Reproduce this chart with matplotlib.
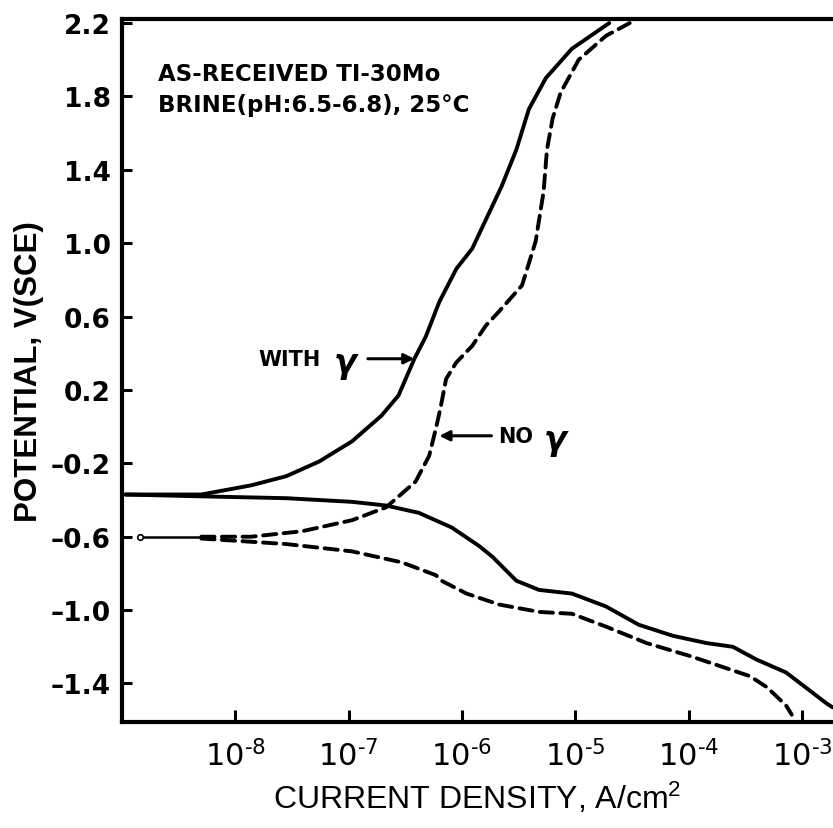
import numpy as np
import matplotlib
matplotlib.use("Agg")
import matplotlib.pyplot as plt
from matplotlib import font_manager

# ---------------- data (log10 current density, potential V vs SCE) ----------------
log_i_with_anodic = [-8.97, -8.30, -7.86, -7.55, -7.26, -6.97, -6.71, -6.56, -6.42, -6.32,
                     -6.20, -6.05, -5.91, -5.65, -5.52, -5.41, -5.26, -5.03, -4.70]
E_with_anodic = [-0.37, -0.37, -0.32, -0.27, -0.19, -0.08, 0.06, 0.17, 0.37, 0.49,
                 0.68, 0.86, 0.97, 1.31, 1.51, 1.73, 1.90, 2.06, 2.20]

log_i_with_cathodic = [-8.97, -8.30, -7.55, -6.97, -6.67, -6.38, -6.09, -5.85, -5.73, -5.52,
                       -5.32, -5.03, -4.73, -4.44, -4.14, -3.84, -3.61, -3.40, -3.14, -2.78, -2.73]
E_with_cathodic = [-0.37, -0.38, -0.39, -0.41, -0.43, -0.47, -0.55, -0.65, -0.71, -0.84,
                   -0.89, -0.91, -0.98, -1.08, -1.14, -1.18, -1.20, -1.27, -1.34, -1.51, -1.53]

log_i_no_anodic = [-8.84, -8.30, -7.86, -7.41, -6.97, -6.67, -6.41, -6.29, -6.23, -6.19,
                   -6.14, -6.05, -5.91, -5.79, -5.67, -5.47, -5.35, -5.28, -5.25, -5.20,
                   -5.13, -4.97, -4.73, -4.52]
E_no_anodic = [-0.60, -0.60, -0.60, -0.57, -0.51, -0.44, -0.30, -0.16, -0.01, 0.10,
               0.26, 0.35, 0.44, 0.55, 0.63, 0.77, 1.01, 1.28, 1.51, 1.68,
               1.82, 2.00, 2.13, 2.20]

log_i_no_cathodic = [-8.84, -8.30, -7.55, -6.97, -6.53, -6.23, -6.18, -5.96, -5.67, -5.32,
                     -5.03, -4.73, -4.37, -3.99, -3.70, -3.46, -3.31, -3.14, -3.09]
E_no_cathodic = [-0.60, -0.61, -0.64, -0.68, -0.74, -0.81, -0.84, -0.91, -0.97, -1.01,
                 -1.02, -1.09, -1.18, -1.25, -1.31, -1.36, -1.42, -1.52, -1.57]

y_ticks = [-1.4, -1.0, -0.6, -0.2, 0.2, 0.6, 1.0, 1.4, 1.8, 2.2]
y_tick_labels = ["\u20131.4", "\u20131.0", "\u20130.6", "\u20130.2", "0.2", "0.6", "1.0", "1.4", "1.8", "2.2"]
x_tick_exponents = [-8, -7, -6, -5, -4, -3]

title_lines = ["AS-RECEIVED TI-30Mo", "BRINE(pH:6.5-6.8), 25\u00b0C"]

# ---------------- fonts ----------------
available = {f.name for f in font_manager.fontManager.ttflist}
narrow = "Liberation Sans Narrow" if "Liberation Sans Narrow" in available else "Liberation Sans"
plt.rcParams["font.family"] = ["DejaVu Sans"]
plt.rcParams["mathtext.fontset"] = "custom"
plt.rcParams["mathtext.rm"] = narrow
plt.rcParams["mathtext.it"] = narrow
plt.rcParams["mathtext.bf"] = narrow + ":bold"

fig = plt.figure(figsize=(8.33, 8.29), dpi=100)
W, H = 833, 829
ax = fig.add_axes([122 / W, 1 - 723 / H, 1 - 122 / W, (723 - 20) / H])

ax.set_xscale("log")
ax.set_xlim(10 ** -9.0, 10 ** -2.726)
ax.set_ylim(-1.61, 2.222)

lw = 2.8
ax.plot(10 ** np.array(log_i_with_anodic), E_with_anodic, color="black", lw=lw,
        solid_capstyle="round", solid_joinstyle="round")
ax.plot(10 ** np.array(log_i_with_cathodic), E_with_cathodic, color="black", lw=lw,
        solid_capstyle="round", solid_joinstyle="round")
dash = (0, (3.4, 1.9))
ax.plot(10 ** np.array(log_i_no_anodic[1:]), E_no_anodic[1:], color="black", lw=lw,
        linestyle=dash, dash_capstyle="round")
ax.plot(10 ** np.array(log_i_no_cathodic[1:]), E_no_cathodic[1:], color="black", lw=lw,
        linestyle=dash, dash_capstyle="round")
# start segment of the "no gamma" curves (thin solid line with open circle)
ax.plot(10 ** np.array(log_i_no_anodic[:2]), E_no_anodic[:2], color="black", lw=1.8)
ax.plot(10 ** np.array(log_i_no_anodic[:1]), E_no_anodic[:1], marker="o", ms=4,
        mfc="white", mec="black", mew=1.2, ls="none")

# spines
for side in ["left", "bottom", "top"]:
    ax.spines[side].set_linewidth(3)
ax.spines["right"].set_visible(False)

# ticks
ax.set_yticks(y_ticks)
ax.set_yticklabels(y_tick_labels)
ax.tick_params(axis="y", direction="in", length=7, width=2.2, pad=8,
               labelsize=19)
for t in ax.get_yticklabels():
    t.set_fontweight("bold")
ax.set_xticks([10.0 ** e for e in x_tick_exponents])
ax.set_xticklabels(["$\\mathregular{10^{\u2010%d}}$" % (-e) for e in x_tick_exponents])
ax.xaxis.set_minor_locator(matplotlib.ticker.NullLocator())
ax.tick_params(axis="x", direction="in", length=9, width=2.2, pad=12, labelsize=22)
ax.tick_params(top=False, right=False)

ax.set_xlabel(r"CURRENT DENSITY, A/cm$\mathregular{^2}$", fontsize=23,
              family=[narrow, "DejaVu Sans"], labelpad=6)
ax.set_ylabel("POTENTIAL, V(SCE)", fontsize=22.5, fontweight="bold",
              family=[narrow, "DejaVu Sans"], labelpad=5)

# header text
ax.text(0.051, 0.922, title_lines[0], transform=ax.transAxes, fontsize=16.5,
        fontweight="bold", va="center", ha="left")
ax.text(0.051, 0.878, title_lines[1], transform=ax.transAxes, fontsize=16.5,
        fontweight="bold", va="center", ha="left")

# annotations
arrowprops = dict(arrowstyle="-|>,head_length=0.6,head_width=0.3", color="black", lw=2.2,
                  shrinkA=0, shrinkB=0)
ax.annotate("", xy=(10 ** -6.42, 0.37), xytext=(10 ** -6.83, 0.37), arrowprops=arrowprops)
ax.text(10 ** -7.25, 0.37, "WITH", fontsize=15, fontweight="bold", ha="right", va="center")
ax.text(10 ** -7.03, 0.35, "\u03b3", fontsize=24, fontweight="bold", style="italic",
        ha="center", va="center")

ax.annotate("", xy=(10 ** -6.20, -0.05), xytext=(10 ** -5.74, -0.05), arrowprops=arrowprops)
ax.text(10 ** -5.68, -0.05, "NO", fontsize=15, fontweight="bold", ha="left", va="center")
ax.text(10 ** -5.18, -0.07, "\u03b3", fontsize=24, fontweight="bold", style="italic",
        ha="center", va="center")

fig.savefig("out.png", dpi=100)
